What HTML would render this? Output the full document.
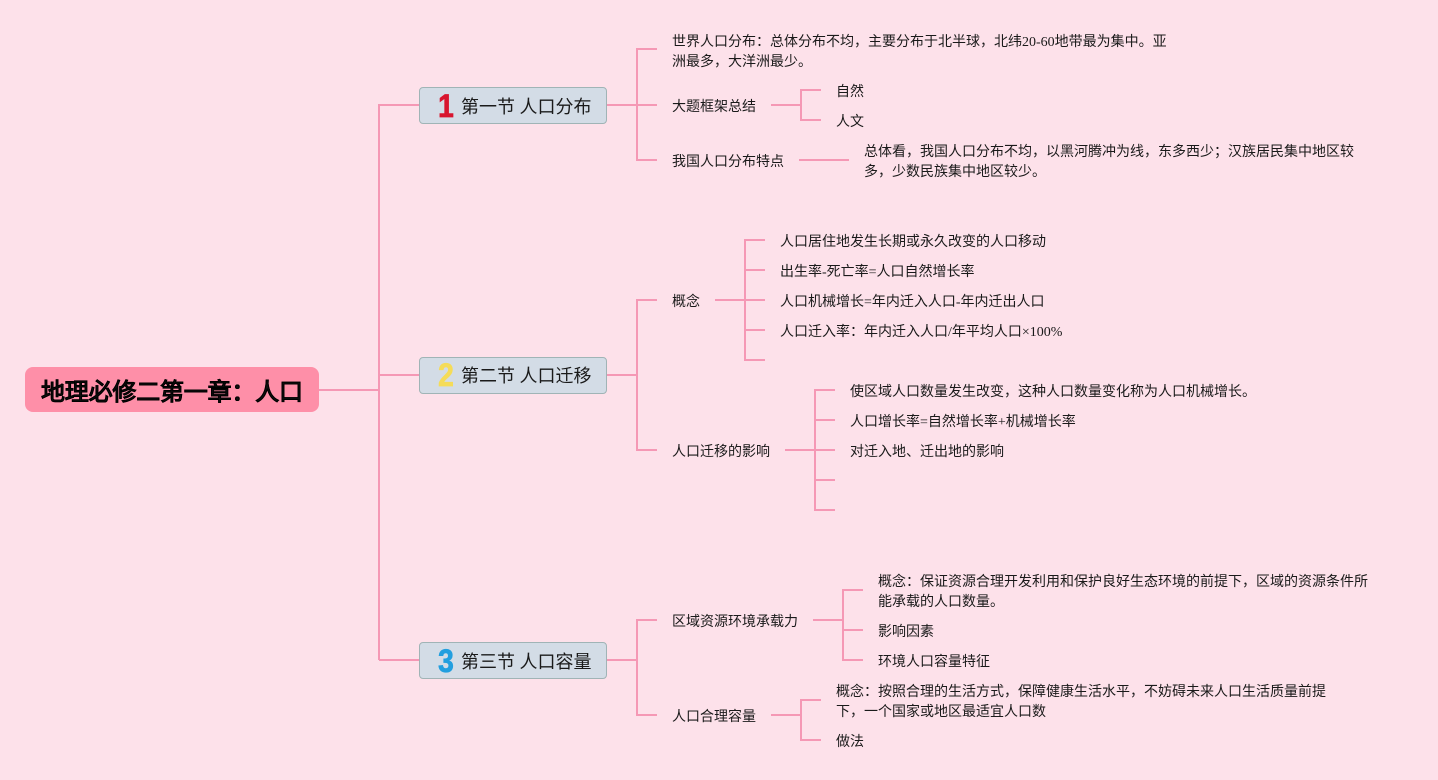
<!DOCTYPE html>
<html lang="zh">
<head>
<meta charset="utf-8">
<style>
html,body{margin:0;padding:0;background:#fde1ea;}
body{width:1438px;height:780px;overflow:hidden;position:relative;font-family:"Liberation Serif","WenQuanYi Zen Hei",serif;color:#1a1a1a;}
svg{position:absolute;left:0;top:0;}
.t{position:absolute;font-size:14px;line-height:20px;white-space:nowrap;}
.b{position:absolute;left:419px;width:188px;height:37px;box-sizing:border-box;background:#d3dce6;border:1.5px solid #a0b4b6;border-radius:4px;}
.b span{position:absolute;left:41px;top:7.5px;font-size:18px;line-height:22px;white-space:nowrap;font-family:"Liberation Serif","WenQuanYi Zen Hei",serif;}
.b i{position:absolute;font-style:normal;font-family:"Liberation Sans",sans-serif;font-weight:bold;font-size:32px;line-height:36px;top:-.5px;left:16px;width:20px;text-align:center;-webkit-text-stroke:.8px currentColor;transform:scaleX(.88);}
#root{position:absolute;left:25px;top:367px;width:294px;height:45px;background:#fe8fa8;border-radius:8px;font-family:"Liberation Sans","WenQuanYi Zen Hei",sans-serif;font-weight:bold;font-size:24px;line-height:52px;letter-spacing:-.2px;-webkit-text-stroke:.25px #000;color:#111;white-space:nowrap;padding-left:16px;box-sizing:border-box;overflow:hidden;}
</style>
</head>
<body>
<svg width="1438" height="780" fill="none" stroke="#f598b5" stroke-width="2">
<path d="M319 390H379M379 660V105H419M379 375H419M379 660H419"/>
<path d="M607 105H637M657 49H637V160H657M637 105H657"/>
<path d="M771 105H801M821 90H801V120H821"/>
<path d="M799 160H849"/>
<path d="M607 375H637M657 300H637V450H657"/>
<path d="M715 300H745M765 240H745V360H765M745 270H765M745 300H765M745 330H765"/>
<path d="M785 450H815M835 390H815V510H835M815 420H835M815 450H835M815 480H835"/>
<path d="M607 660H637M657 620H637V715H657"/>
<path d="M813 620H843M863 590H843V660H863M843 630H863"/>
<path d="M771 715H801M821 700H801V740H821"/>
</svg>
<div id="root">地理必修二第一章：人口</div>
<div class="b" style="top:87px"><i style="color:#d8152f">1</i><span>第一节 人口分布</span></div>
<div class="b" style="top:356.5px"><i style="color:#f5dc58">2</i><span>第二节 人口迁移</span></div>
<div class="b" style="top:642px"><i style="color:#239fdf">3</i><span>第三节 人口容量</span></div>

<div class="t" style="left:672px;top:33px">世界人口分布：总体分布不均，主要分布于北半球，北纬20-60地带最为集中。亚<br>洲最多，大洋洲最少。</div>
<div class="t" style="left:672px;top:98px">大题框架总结</div>
<div class="t" style="left:836px;top:83px">自然</div>
<div class="t" style="left:836px;top:113px">人文</div>
<div class="t" style="left:672px;top:153px">我国人口分布特点</div>
<div class="t" style="left:864px;top:143px">总体看，我国人口分布不均，以黑河腾冲为线，东多西少；汉族居民集中地区较<br>多，少数民族集中地区较少。</div>

<div class="t" style="left:672px;top:293px">概念</div>
<div class="t" style="left:780px;top:233px">人口居住地发生长期或永久改变的人口移动</div>
<div class="t" style="left:780px;top:263px">出生率-死亡率=人口自然增长率</div>
<div class="t" style="left:780px;top:293px">人口机械增长=年内迁入人口-年内迁出人口</div>
<div class="t" style="left:780px;top:323px">人口迁入率：年内迁入人口/年平均人口×100%</div>
<div class="t" style="left:672px;top:443px">人口迁移的影响</div>
<div class="t" style="left:850px;top:383px">使区域人口数量发生改变，这种人口数量变化称为人口机械增长。</div>
<div class="t" style="left:850px;top:413px">人口增长率=自然增长率+机械增长率</div>
<div class="t" style="left:850px;top:443px">对迁入地、迁出地的影响</div>

<div class="t" style="left:672px;top:613px">区域资源环境承载力</div>
<div class="t" style="left:878px;top:573px">概念：保证资源合理开发利用和保护良好生态环境的前提下，区域的资源条件所<br>能承载的人口数量。</div>
<div class="t" style="left:878px;top:623px">影响因素</div>
<div class="t" style="left:878px;top:653px">环境人口容量特征</div>
<div class="t" style="left:672px;top:708px">人口合理容量</div>
<div class="t" style="left:836px;top:683px">概念：按照合理的生活方式，保障健康生活水平，不妨碍未来人口生活质量前提<br>下，一个国家或地区最适宜人口数</div>
<div class="t" style="left:836px;top:733px">做法</div>
</body>
</html>
